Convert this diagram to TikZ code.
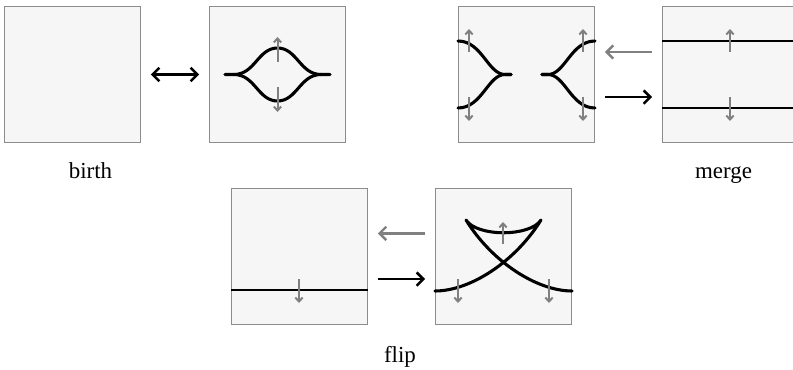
\documentclass[tikz,border=0pt]{standalone}
\usepackage{fontspec}
\setmainfont{Liberation Serif}
\usetikzlibrary{arrows.meta}

\definecolor{panelfill}{RGB}{246,246,246}
\definecolor{panelline}{RGB}{140,140,140}
\definecolor{dirgray}{RGB}{128,128,128}

\begin{document}
\begin{tikzpicture}[x=0.75pt, y=-0.75pt,
  panel/.style={draw=panelline, fill=panelfill, line width=1.1pt,
    minimum size=102pt, inner sep=0pt, outer sep=0pt},
  front/.style={black, line width=2.3pt, line cap=round, line join=round},
  level/.style={black, line width=1.5pt},
  normal/.style={dirgray, line width=1.5pt,
    -{Straight Barb[length=3pt,width=5.5pt]}},
  move/.style={black, line width=1.9pt, shorten <=7.8pt, shorten >=7.8pt,
    -{Straight Barb[length=5pt,width=10pt]}},
  undo/.style={dirgray, line width=1.8pt, shorten <=7.8pt, shorten >=7.8pt,
    -{Straight Barb[length=5pt,width=10pt]}},
  caption/.style={font=\fontsize{17.2}{20}\selectfont, anchor=base}]

\useasboundingbox (0,0) rectangle (793,370);
\clip (0,0) rectangle (793,370);

%=== birth ===
\node[panel] (birthA) at (72.5,74.5) {};
\node[panel] (birthB) at (277.5,74.5) {};

\draw[front] (225,74.5) -- (234,74.5)
  .. controls (255,74.5) and (258,48) .. (277.5,48)
  .. controls (297,48) and (300,74.5) .. (321,74.5) -- (330,74.5);
\draw[front] (234,74.5)
  .. controls (255,74.5) and (258,101) .. (277.5,101)
  .. controls (297,101) and (300,74.5) .. (321,74.5);
\draw[normal] (277.5,62) -- (277.5,37);
\draw[normal] (277.5,87) -- (277.5,112);

\draw[move, {Straight Barb[length=5pt,width=10pt]}-{Straight Barb[length=5pt,width=10pt]}]
  (birthA) -- (birthB);
\node[caption] (birthlab) at (90.5,179) {birth};

%=== merge ===
\node[panel] (mergeA) at (526.5,74.5) {};
\node[panel] (mergeB) at (730.5,74.5) {};

% left and right cusps
\foreach \ya/\yb in {41/74.5, 108/74.5}{
  \draw[front] (458,\ya) .. controls (482,\ya) and (488,\yb) .. (505,\yb) -- (511,\yb);
  \draw[front] (595,\ya) .. controls (571,\ya) and (565,\yb) .. (548,\yb) -- (542,\yb);
}
\foreach \xp in {469,583}{
  \draw[normal] (\xp,52) -- (\xp,29);
  \draw[normal] (\xp,97) -- (\xp,121);
}

\draw[level] (662,41) -- (800,41);
\draw[level] (662,108) -- (800,108);
\draw[normal] (730,52) -- (730,29);
\draw[normal] (730,97) -- (730,121);

\draw[undo] ([yshift=16.9pt]mergeB.west) -- ([yshift=16.9pt]mergeA.east);
\draw[move] ([yshift=-16.9pt]mergeA.east) -- ([yshift=-16.9pt]mergeB.west);
\node[caption] (mergelab) at (723.5,179) {merge};

%=== flip ===
\node[panel] (flipA) at (299.5,256.5) {};
\node[panel] (flipB) at (503.5,256.5) {};

\draw[level] (231,290) -- (368,290);
\draw[normal] (299,279) -- (299,303);

% swallowtail
\draw[front] (435,291) .. controls (470,291) and (515,262) .. (541,220)
  .. controls (530,237) and (477,237) .. (466,220)
  .. controls (492,262) and (537,291) .. (572,291);
\draw[normal] (503,244) -- (503,222);
\draw[normal] (458,279) -- (458,303);
\draw[normal] (549,279) -- (549,303);

\draw[undo] ([yshift=17.3pt]flipB.west) -- ([yshift=17.3pt]flipA.east);
\draw[move] ([yshift=-16.9pt]flipA.east) -- ([yshift=-16.9pt]flipB.west);
\node[caption] (fliplab) at (400,363) {flip};

\end{tikzpicture}
\end{document}
